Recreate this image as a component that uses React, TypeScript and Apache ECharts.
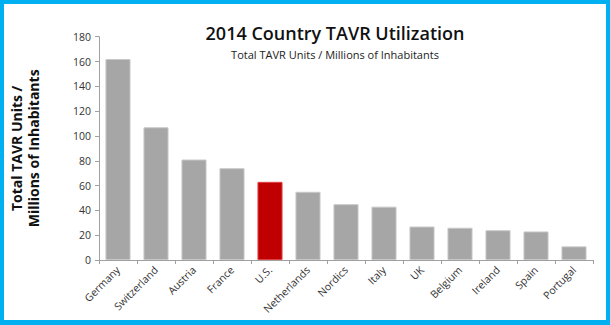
import React, { useEffect, useRef } from "react";
import * as echarts from "echarts";

const categories = ["Germany", "Switzerland", "Austria", "France", "U.S.", "Netherlands", "Nordics", "Italy", "UK", "Belgium", "Ireland", "Spain", "Portugal"];
const values = [162, 107, 81, 74, 63, 55, 45, 43, 27, 26, 24, 23, 11];
const highlight = "U.S.";
const yTicks = { min: 0, max: 180, interval: 20 };

export default function App() {
  const ref = useRef<HTMLDivElement>(null);
  useEffect(() => {
    document.body.style.margin = "0";
    const chart = echarts.init(ref.current!, null, { renderer: "svg" });
    const blue = "#00B0F0";
    chart.setOption({
      animation: false,
      backgroundColor: "#fff",
      title: {
        text: "2014 Country TAVR Utilization",
        subtext: "Total TAVR Units / Millions of Inhabitants",
        left: 330,
        textAlign: "center",
        top: 19,
        itemGap: 7,
        textStyle: { fontFamily: "Open Sans", fontSize: 18, fontWeight: 600, color: "#111" },
        subtextStyle: { fontFamily: "Open Sans", fontSize: 11, color: "#222" },
      },
      grid: { left: 89, right: 17, top: 36.7, bottom: 65 },
      xAxis: {
        type: "category",
        data: categories,
        axisLine: { lineStyle: { color: "#A0A0A0" } },
        axisTick: { show: true, alignWithLabel: false, length: 4, lineStyle: { color: "#A0A0A0" } },
        axisLabel: { rotate: 45, fontFamily: "Open Sans", fontSize: 10.5, color: "#333", margin: 8, interval: 0 },
      },
      yAxis: {
        type: "value",
        min: yTicks.min,
        max: yTicks.max,
        interval: yTicks.interval,
        name: "Total TAVR Units /\nMillions of Inhabitants",
        nameLocation: "middle",
        nameGap: 57,
        nameRotate: 90,
        nameTextStyle: { fontFamily: "Open Sans", fontSize: 14, fontWeight: "bold", color: "#111", lineHeight: 17 },
        axisLine: { show: true, lineStyle: { color: "#A0A0A0" } },
        axisTick: { show: true, length: 4, lineStyle: { color: "#A0A0A0" } },
        splitLine: { show: false },
        axisLabel: { fontFamily: "Open Sans", fontSize: 10.5, color: "#333", margin: 8 },
      },
      series: [
        {
          type: "bar",
          data: values.map((v, i) => ({
            value: v,
            itemStyle: {
              color: categories[i] === highlight ? "#C00000" : "#A6A6A6",
              borderColor: categories[i] === highlight ? "#E04040" : "#C8C8C8",
              borderWidth: 1,
            },
          })),
          barCategoryGap: "34%",
        },
      ],
      graphic: [
        { type: "rect", shape: { x: 0, y: 0, width: 610, height: 4 }, style: { fill: blue } },
        { type: "rect", shape: { x: 0, y: 320, width: 610, height: 5 }, style: { fill: blue } },
        { type: "rect", shape: { x: 0, y: 0, width: 4, height: 325 }, style: { fill: blue } },
        { type: "rect", shape: { x: 606, y: 0, width: 4, height: 325 }, style: { fill: blue } },
      ],
    });
    return () => chart.dispose();
  }, []);
  return <div ref={ref} style={{ width: 610, height: 325 }} />;
}
